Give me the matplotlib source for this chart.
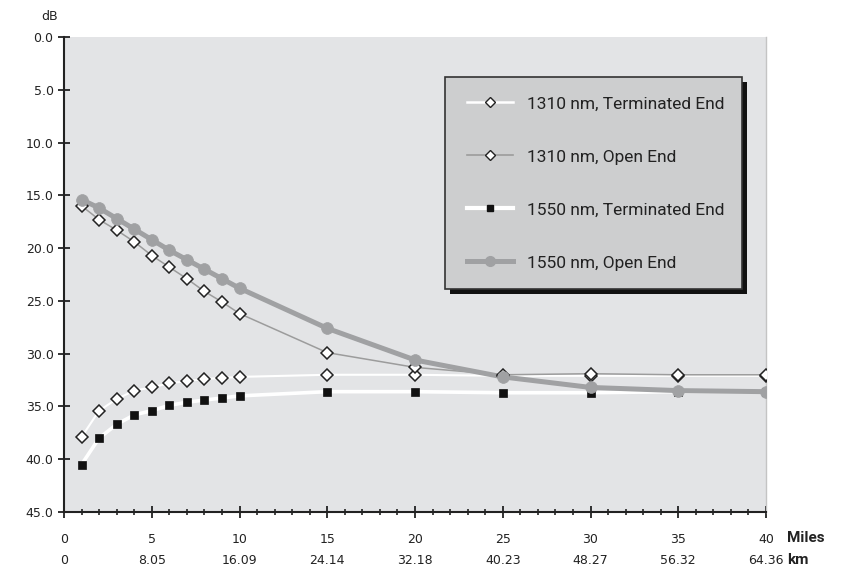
import matplotlib
matplotlib.use("Agg")
import matplotlib.pyplot as plt
from matplotlib.lines import Line2D
from matplotlib.patches import Rectangle
from matplotlib.ticker import MultipleLocator

# ---- data ----
miles = [1, 2, 3, 4, 5, 6, 7, 8, 9, 10, 15, 20, 25, 30, 35, 40]
term1310 = [37.9, 35.4, 34.3, 33.5, 33.2, 32.8, 32.6, 32.4, 32.3, 32.2, 32.0, 32.0, 32.1, 32.1, 32.1, 32.1]
open1310 = [16.0, 17.3, 18.3, 19.4, 20.7, 21.8, 22.9, 24.1, 25.1, 26.2, 29.9, 31.3, 32.0, 31.9, 32.0, 32.0]
term1550 = [40.5, 38.0, 36.7, 35.8, 35.4, 34.9, 34.6, 34.4, 34.2, 34.0, 33.6, 33.6, 33.7, 33.7, 33.6, 33.6]
open1550 = [15.4, 16.2, 17.2, 18.2, 19.2, 20.2, 21.1, 22.0, 22.9, 23.8, 27.6, 30.6, 32.2, 33.2, 33.5, 33.6]

series_labels = ["1310 nm, Terminated End", "1310 nm, Open End",
                 "1550 nm, Terminated End", "1550 nm, Open End"]
mile_ticks = [0, 5, 10, 15, 20, 25, 30, 35, 40]
km_labels = ["0", "8.05", "16.09", "24.14", "32.18", "40.23", "48.27", "56.32", "64.36"]
y_ticks = [0, 5, 10, 15, 20, 25, 30, 35, 40, 45]

fig = plt.figure(figsize=(8.51, 5.73), dpi=100)
ax = fig.add_axes([64 / 851, 1 - 512 / 573, (766 - 64) / 851, (512 - 37) / 573])
ax.set_facecolor("#e3e4e6")

styles = [
    dict(color="white", lw=1.5, marker="D", ms=6.5, mfc="white", mec="#222222", mew=1.1),
    dict(color="#9c9c9c", lw=1.1, marker="D", ms=6.5, mfc="white", mec="#222222", mew=1.1),
    dict(color="white", lw=2.6, marker="s", ms=5.5, mfc="#111111", mec="#111111", mew=0.5),
    dict(color="#a0a1a3", lw=3.6, marker="o", ms=8.5, mfc="#a0a1a3", mec="#a0a1a3", mew=0.5),
]
data = [term1310, open1310, term1550, open1550]

# lines first, markers on top (Excel style)
for i, (vals, st) in enumerate(zip(data, styles)):
    ax.plot(miles, vals, color=st["color"], lw=st["lw"], zorder=2 + i * 0.1,
            solid_joinstyle="round")
for i, (vals, st) in enumerate(zip(data, styles)):
    ax.plot(miles, vals, ls="none", marker=st["marker"], ms=st["ms"], mfc=st["mfc"],
            mec=st["mec"], mew=st["mew"], zorder=3 + i * 0.1)

ax.set_xlim(0, 40)
ax.set_ylim(45, 0)

ax.spines["top"].set_visible(False)
ax.spines["right"].set_color("#c4c4c4")
ax.spines["right"].set_linewidth(1.0)
ax.spines["left"].set_linewidth(1.5)
ax.spines["bottom"].set_linewidth(1.5)
ax.spines["left"].set_color("#222222")
ax.spines["bottom"].set_color("#222222")

ax.set_yticks(y_ticks)
ax.set_yticklabels([f"{v:.1f}" for v in y_ticks], fontsize=9, family="DejaVu Sans",
                   color="#222222")
ax.tick_params(axis="y", direction="inout", length=9, width=1.3, pad=3, colors="#222222")

ax.set_xticks(mile_ticks)
ax.set_xticklabels([f"{m}\n{k}" for m, k in zip(mile_ticks, km_labels)],
                   fontsize=9, family="DejaVu Sans", color="#222222")
for lab in ax.get_xticklabels():
    lab.set_linespacing(1.85)
ax.xaxis.set_minor_locator(MultipleLocator(1))
ax.tick_params(axis="x", which="major", direction="inout", length=8, width=1.3, pad=11,
               colors="#222222")
ax.tick_params(axis="x", which="minor", direction="inout", length=5, width=1.2,
               colors="#222222")

fig.text(787 / 851, 1 - 538 / 573, "Miles", fontsize=11, family="Roboto", weight="bold",
         ha="left", va="center", color="#222222")
fig.text(787 / 851, 1 - 560 / 573, "km", fontsize=11, family="Roboto", weight="bold",
         ha="left", va="center", color="#222222")
fig.text(50 / 851, 1 - 17 / 573, "dB", fontsize=9, family="DejaVu Sans",
         ha="center", va="center", color="#222222")

# legend box with shadow
bx0, bx1 = 0.543, 0.966
by0, by1 = 0.469, 0.916
ax.add_patch(Rectangle((bx0 + 0.0075, by0 - 0.011), bx1 - bx0, by1 - by0,
                       transform=ax.transAxes, facecolor="#111111", edgecolor="none",
                       zorder=6))
ax.add_patch(Rectangle((bx0, by0), bx1 - bx0, by1 - by0, transform=ax.transAxes,
                       facecolor="#cdcecf", edgecolor="#333333", lw=1.2, zorder=7))

handles = [
    Line2D([], [], color=styles[0]["color"], lw=1.8, marker="D", ms=5, mfc="white",
           mec="#222222", mew=1.0),
    Line2D([], [], color=styles[1]["color"], lw=1.2, marker="D", ms=5, mfc="white",
           mec="#222222", mew=1.0),
    Line2D([], [], color=styles[2]["color"], lw=3.0, marker="s", ms=4.5, mfc="#111111",
           mec="#111111"),
    Line2D([], [], color=styles[3]["color"], lw=3.6, marker="o", ms=7, mfc="#a0a1a3",
           mec="#a0a1a3"),
]
leg = ax.legend(handles, series_labels, loc="upper left",
                bbox_to_anchor=(0.574, 0.875), frameon=False,
                prop={"family": "Roboto", "size": 12.5}, handlelength=2.64,
                handletextpad=0.8, labelspacing=2.18, borderaxespad=0, borderpad=0)
leg.set_zorder(8)
for t in leg.get_texts():
    t.set_color("#222222")

fig.savefig("out.png", dpi=100, facecolor="white")
